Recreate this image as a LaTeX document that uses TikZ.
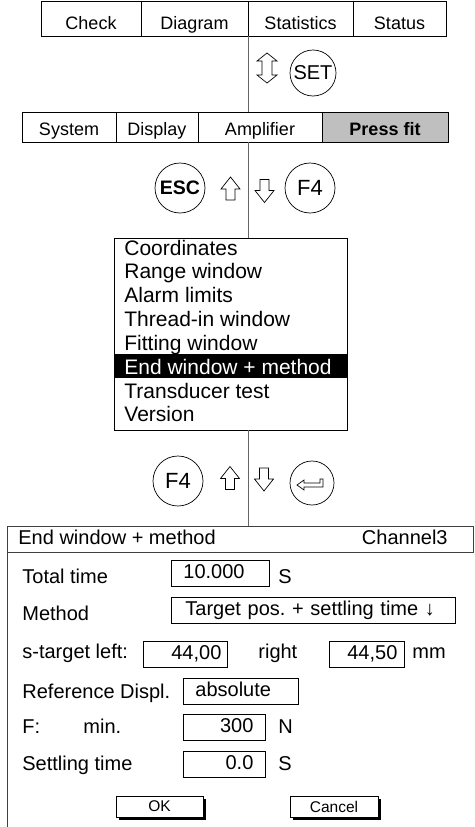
\documentclass[tikz,border=0pt]{standalone}
\usepackage{fontspec}
\setmainfont{Liberation Sans}
\usetikzlibrary{positioning,shadows}

\tikzset{
  tabcell/.style={draw, minimum height=35pt, inner sep=0pt, outer sep=0pt, text height=23.5pt, text depth=2.5pt, font=\fontsize{18}{20}\selectfont},
  subcell/.style={tabcell, minimum height=30pt, text height=18pt, text depth=2pt},
  keycirc/.style={draw, circle, inner sep=0pt, line width=0.7pt},
  vline/.style={draw=black!60, line width=0.8pt},
  menuitem/.style={anchor=base west, inner sep=0pt, font=\fontsize{21}{24}\selectfont},
  dlgtext/.style={anchor=base west, inner sep=0pt, font=\fontsize{20}{22}\selectfont},
  valbox/.style={draw, anchor=west, minimum height=26pt, inner ysep=0pt, text height=14pt, text depth=4pt, font=\fontsize{20}{22}\selectfont},
  dlgbutton/.style={draw, fill=white, minimum height=21pt, inner sep=0pt, font=\fontsize{15.5}{17}\selectfont,
    drop shadow={shadow xshift=3pt, shadow yshift=-3pt, fill=black, opacity=1}},
  hollowup/.pic={\draw[line width=0.7pt, fill=white] (0,-11.5) -- (9.5,0.5) -- (4.5,0.5) -- (4.5,11.5) -- (-4.5,11.5) -- (-4.5,0.5) -- (-9.5,0.5) -- cycle;},
  updown/.pic={\draw[line width=0.7pt, fill=white] (0,-15) -- (10,-7) -- (5,-7) -- (5,7) -- (10,7) -- (0,15) -- (-10,7) -- (-5,7) -- (-5,-7) -- (-10,-7) -- cycle;},
  enterglyph/.pic={\draw[line width=0.7pt, fill=white] (-15,2) -- (-8,-3) -- (-8,0) -- (8,0) -- (8,-4) -- (11,-4) -- (11,4) -- (-8,4) -- (-8,7) -- cycle;}
}

\begin{document}
\frenchspacing
\begin{tikzpicture}[x=1pt, y=-1pt, line width=0.8pt]
\useasboundingbox (0,0) rectangle (474,827);

% main menu bar
\node[tabcell, minimum width=100pt] (check) at (91,18.5) {Check};
\node[tabcell, minimum width=107pt, right=0pt of check] (diagram) {Diagram};
\node[tabcell, minimum width=105pt, right=0pt of diagram] (statistics) {Statistics};
\node[tabcell, minimum width=93pt, right=0pt of statistics] (status) {Status};

\pic at (267,68) {updown};
\node[keycirc, minimum size=46pt, font=\fontsize{20}{22}\selectfont] (setkey) at (313,73) {SET};

% sub menu bar
\node[subcell, minimum width=94pt] (system) at (69,127) {System};
\node[subcell, minimum width=82pt, right=0pt of system] (display) {Display};
\node[subcell, minimum width=124pt, right=0pt of display] (amplifier) {Amplifier};
\node[subcell, minimum width=126pt, right=0pt of amplifier, fill=black!25, font=\fontsize{18}{20}\selectfont\bfseries] (pressfit) {Press fit};

\node[keycirc, minimum size=50pt, font=\fontsize{19.5}{21}\selectfont\bfseries] (esckey) at (180,188) {ESC};
\pic at (230.5,188.5) {hollowup};
\pic[rotate=180] at (264.5,191) {hollowup};
\node[keycirc, minimum size=50pt, font=\fontsize{22}{24}\selectfont] (fkey) at (310,188) {F4};

% press fit menu
\node[draw, minimum width=233pt, minimum height=192pt, inner sep=0pt, outer sep=0pt] (menu) at (230.5,334) {};
\node[fill=black, minimum width=233pt, minimum height=24pt, inner sep=0pt] (selbar) at (230.5,366) {};
\foreach \txt/\col [count=\i from 0] in {Coordinates/black, Range window/black, Alarm limits/black,
    Thread-in window/black, Fitting window/black, End window + method/white, Transducer test/black, Version/black}
  \node[menuitem, text=\col] (item\i) at (124,255+23.85*\i) {\txt};

\node[keycirc, minimum size=50pt, font=\fontsize{22}{24}\selectfont] (fkeyb) at (178,481) {F4};
\pic at (230,478) {hollowup};
\pic[rotate=180] at (264,479.5) {hollowup};
\node[keycirc, minimum size=44pt] (enterkey) at (312,483) {};
\pic at (enterkey.center) {enterglyph};

% dialog
\coordinate (dlgbottom) at (0,827);
\node[draw=black!75, minimum width=466pt, minimum height=26pt, inner sep=0pt, outer sep=0pt] (title) at (240,539) {};
\draw[black!75] (title.south west) -- (title.south west |- dlgbottom);
\node[dlgtext] (ttl) at (18,544) {End window + method};
\node[dlgtext, anchor=base east] (chan) at (448,544) {Channel3};

\node[dlgtext] (ttlabel) at (22,583) {Total time};
\node[valbox, text width=74pt, inner xsep=12pt, align=left] (ttbox) at (171,573.5) {10.000};
\node[dlgtext] (ttunit) at (278,583) {S};

\node[dlgtext] (methlabel) at (22,620) {Method};
\node[valbox, text width=256pt, inner xsep=14pt, align=left] (methbox) at (171,610) {Target pos. + settling time ↓};

\node[dlgtext] (stlabel) at (22,658) {s-target left:};
\node[valbox, text width=72pt, inner xsep=6pt, align=right] (leftbox) at (143,654) {44,00};
\node[dlgtext] (rightlabel) at (258,658) {right};
\node[valbox, text width=61pt, inner xsep=7pt, align=right] (rightbox) at (329,654) {44,50};
\node[dlgtext] (stunit) at (412,658) {mm};

\node[dlgtext] (reflabel) at (22,698) {Reference Displ.};
\node[valbox, text width=91pt, inner xsep=12pt, align=left] (refbox) at (183,691.5) {absolute};

\node[dlgtext] (flabel) at (22,733) {F:};
\node[dlgtext] (minlabel) at (83,733) {min.};
\node[valbox, text width=58pt, inner xsep=12pt, align=right] (forcebox) at (183,727.5) {300};
\node[dlgtext] (funit) at (278,733) {N};

\node[dlgtext] (setlabel) at (22,770) {Settling time};
\node[valbox, text width=58pt, inner xsep=12pt, align=right] (settlebox) at (183,764.5) {0.0};
\node[dlgtext] (setunit) at (278,770) {S};

\node[dlgbutton, minimum width=87pt] (okbtn) at (159.5,806.5) {OK};
\node[dlgbutton, minimum width=88pt] (cancelbtn) at (334,806.5) {Cancel};

% connecting line
\draw[vline] (diagram.south east) -- (diagram.south east |- amplifier.north);
\draw[vline] (diagram.south east |- amplifier.south) -- (diagram.south east |- menu.north);
\draw[vline] (diagram.south east |- menu.south) -- (diagram.south east |- title.north);
\end{tikzpicture}
\end{document}
